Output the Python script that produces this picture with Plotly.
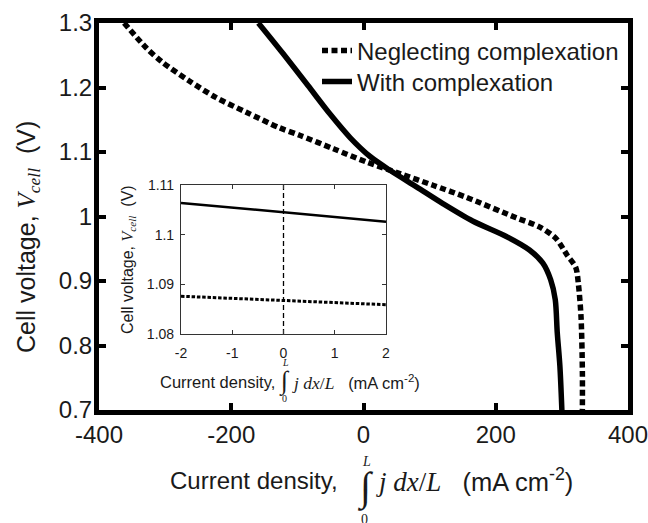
import plotly.graph_objects as go

# ---------------- data ----------------
# Main plot: current density (mA cm^-2) vs cell voltage (V)
neglect_j = [-362, -329, -304, -264, -224, -178, -128, -95.6, -45.5, 4.8, 55, 105, 155,
             231, 266, 291, 308, 321, 325, 329, 331, 331]
neglect_v = [1.300, 1.262, 1.239, 1.2105, 1.185, 1.162, 1.138, 1.1256, 1.105, 1.0844,
             1.0665, 1.0485, 1.030, 0.998, 0.984, 0.966, 0.940, 0.921, 0.895,
             0.844, 0.760, 0.700]

with_j = [-159, -122, -84, -50, -20, 10, 40, 80, 120, 165, 216, 251, 271, 283, 290,
          293, 297, 300]
with_v = [1.300, 1.253, 1.203, 1.158, 1.122, 1.093, 1.0716, 1.046, 1.020, 0.993, 0.969,
          0.948, 0.928, 0.902, 0.871, 0.820, 0.768, 0.700]

# Inset
inset_j = [-2, 0, 2]
inset_with_v = [1.1064, 1.1045, 1.1026]
inset_neglect_v = [1.0876, 1.0867, 1.0859]
inset_zero_j = [0, 0]
inset_zero_v = [1.08, 1.11]

# Ticks
main_xticks = [-400, -200, 0, 200, 400]
main_xticktext = ["-400", "-200", "0", "200", "400"]
main_yticks = [0.7, 0.8, 0.9, 1.0, 1.1, 1.2, 1.3]
main_yticktext = ["0.7", "0.8", "0.9", "1", "1.1", "1.2", "1.3"]
inset_xticks = [-2, -1, 0, 1, 2]
inset_xticktext = ["-2", "-1", "0", "1", "2"]
inset_yticks = [1.08, 1.09, 1.10, 1.11]
inset_yticktext = ["1.08", "1.09", "1.1", "1.11"]

legend_names = ["Neglecting complexation", "With complexation"]

# ---------------- layout helpers ----------------
W, H = 648, 523
ML, MR, MT, MB = 99, 20, 23, 113
PW, PH = W - ML - MR, H - MT - MB


def xp(px):
    return (px - ML) / PW


def yp(py):
    return (H - MB - py) / PH


SANS = "Liberation Sans, Arial, sans-serif"
SERIF = "Liberation Serif, Times New Roman, serif"
TXT = "#1a1a1a"

fig = go.Figure()

fig.add_trace(go.Scatter(x=neglect_j, y=neglect_v, mode="lines", name=legend_names[0],
                         line=dict(color="black", width=5.5, dash="6px,3.5px", shape="spline", smoothing=0.8),
                         xaxis="x", yaxis="y", legend="legend"))
fig.add_trace(go.Scatter(x=with_j, y=with_v, mode="lines", name=legend_names[1],
                         line=dict(color="black", width=5.5, shape="spline", smoothing=0.8),
                         xaxis="x", yaxis="y", legend="legend2"))

fig.add_trace(go.Scatter(x=inset_j, y=inset_with_v, mode="lines", showlegend=False,
                         line=dict(color="black", width=2.5), xaxis="x2", yaxis="y2"))
fig.add_trace(go.Scatter(x=inset_j, y=inset_neglect_v, mode="lines", showlegend=False,
                         line=dict(color="black", width=3, dash="3.5px,1.8px"), xaxis="x2", yaxis="y2"))
fig.add_trace(go.Scatter(x=inset_zero_j, y=inset_zero_v, mode="lines", showlegend=False,
                         line=dict(color="black", width=1.3, dash="5px,3px"), xaxis="x2", yaxis="y2"))

main_axis = dict(showline=True, linewidth=5, linecolor="black", mirror="ticks",
                 ticks="inside", ticklen=7, tickwidth=3.5, tickcolor="black",
                 showgrid=False, zeroline=False, ticklabeloverflow="allow", automargin=False,
                 tickfont=dict(family=SANS, size=24, color=TXT))
inset_axis = dict(showline=True, linewidth=1.2, linecolor="#333333", mirror="ticks",
                  ticks="inside", ticklen=4, tickwidth=1, tickcolor="#333333",
                  showgrid=False, zeroline=False, ticklabeloverflow="allow", automargin=False,
                  tickfont=dict(family=SANS, size=14, color=TXT))

annotations = []


def ann(text, px, py, size, xanchor="center", yanchor="middle", angle=0, family=SANS):
    annotations.append(dict(text=text, x=xp(px), y=yp(py), xref="paper", yref="paper",
                            xanchor=xanchor, yanchor=yanchor, showarrow=False,
                            textangle=angle, font=dict(family=family, size=size, color=TXT)))


SP = "&nbsp;"

# Main x title
ann("Current density,", 340, 480, 24, xanchor="right")
ann("∫", 365, 488, 40, family=SERIF)
ann("<span style='font-family:Liberation Serif;font-size:27px'><i>j dx</i>/<i>L</i></span>" + SP * 3 +
    "(mA cm<sup>-2</sup>)", 374, 480, 25.5, xanchor="left")
ann("<i>L</i>", 366, 461, 14, family=SERIF)
ann("0", 364, 519, 14, family=SERIF)

# Main y title
ann("Cell voltage, <span style='font-family:Liberation Serif'><i>V</i><sub><i>cell</i></sub></span>" +
    SP * 2 + "(V)", 28, 237, 25, angle=-90)

# Inset x title
ann("Current density,", 277, 382, 16.5, xanchor="right")
ann("∫", 284, 381, 26, family=SERIF)
ann("<span style='font-family:Liberation Serif;font-size:17.5px'><i>j dx</i>/<i>L</i></span>" + SP * 3 +
    "(mA cm<sup>-2</sup>)", 290, 382, 16.5, xanchor="left")
ann("<i>L</i>", 285, 362, 10, family=SERIF)
ann("0", 284, 398, 10, family=SERIF)

# Inset y title
ann("Cell voltage, <span style='font-family:Liberation Serif'><i>V</i><sub><i>cell</i></sub></span>" +
    SP * 2 + "(V)", 128, 260, 16, angle=-90)

legend_common = dict(xanchor="left", yanchor="middle", bgcolor="rgba(0,0,0,0)", borderwidth=0,
                     font=dict(family=SANS, size=24, color=TXT))

fig.update_layout(
    template="none",
    width=W, height=H, autosize=False,
    margin=dict(l=ML, r=MR, t=MT, b=MB, pad=0, autoexpand=False),
    paper_bgcolor="white", plot_bgcolor="white",
    font=dict(family=SANS, color=TXT),
    xaxis=dict(range=[-400, 400], tickvals=main_xticks, ticktext=main_xticktext,
               ticklabelstandoff=-1, **main_axis),
    yaxis=dict(range=[0.7, 1.3], tickvals=main_yticks, ticktext=main_yticktext,
               ticklabelstandoff=-3, **main_axis),
    xaxis2=dict(domain=[xp(181), xp(386)], anchor="y2", range=[-2, 2], tickvals=inset_xticks,
                ticktext=inset_xticktext, ticklabelstandoff=6, **inset_axis),
    yaxis2=dict(domain=[yp(334), yp(185)], anchor="x2", range=[1.08, 1.11], tickvals=inset_yticks,
                ticktext=inset_yticktext, ticklabelstandoff=3, **inset_axis),
    legend=dict(x=xp(317), y=yp(51), **legend_common),
    legend2=dict(x=xp(317), y=yp(82), **legend_common),
    annotations=annotations,
    showlegend=True,
)

fig.write_html(
    "out.html",
    config={"responsive": False, "displayModeBar": False},
    post_script=("document.documentElement.style.overflow='hidden';"
                 "document.body.style.overflow='hidden';"
                 "document.body.style.margin='0';"),
)
